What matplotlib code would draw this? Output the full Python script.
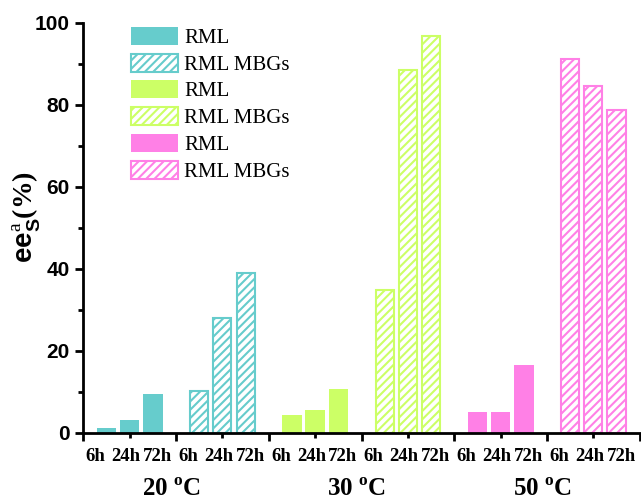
import matplotlib
matplotlib.use("Agg")
import matplotlib.pyplot as plt
import matplotlib.transforms as mtransforms

plt.rcParams['mathtext.fontset'] = 'custom'
plt.rcParams['mathtext.rm'] = 'Liberation Serif'
plt.rcParams['mathtext.bf'] = 'Liberation Serif:bold'
plt.rcParams['mathtext.sf'] = 'Liberation Sans:bold'
plt.rcParams['hatch.linewidth'] = 1.5

# ---- data ----
times = ["6h", "24h", "72h"]
temps = ["20", "30", "50"]
series_labels = ["RML", "RML MBGs"]
rml_20 = [1.1, 3.2, 9.4]
mbg_20 = [10.2, 28.0, 38.9]
rml_30 = [4.2, 5.6, 10.7]
mbg_30 = [34.8, 88.4, 96.8]
rml_50 = [5.0, 5.0, 16.5]
mbg_50 = [91.1, 84.6, 78.7]
colors = ["#66CCCC", "#CCFF66", "#FF80E6"]

groups = [rml_20, mbg_20, rml_30, mbg_30, rml_50, mbg_50]

fig = plt.figure(figsize=(6.41, 5.04), dpi=100)
ax = fig.add_axes([0.130, 0.1415, 0.868, 0.8135])

offsets = [0.25, 0.5, 0.75]
handles = []
for gi, vals in enumerate(groups):
    c = colors[gi // 2]
    hatched = gi % 2 == 1
    xs = [gi + o for o in offsets]
    if hatched:
        b = ax.bar(xs, vals, width=0.195, facecolor="white", edgecolor=c,
                   hatch="////", linewidth=1.5, label=series_labels[1])
    else:
        b = ax.bar(xs, vals, width=0.21, color=c, linewidth=0,
                   label=series_labels[0])
    handles.append(b)

ax.set_xlim(0, 6)
ax.set_ylim(0, 100)

for s in ["top", "right"]:
    ax.spines[s].set_visible(False)
for s in ["left", "bottom"]:
    ax.spines[s].set_linewidth(2.0)

ax.set_xticks(range(0, 7))
ax.set_xticks([i + 0.5 for i in range(6)], minor=True)
ax.set_xticklabels([])
ax.tick_params(axis='x', which='major', direction='out', length=6, width=2)
ax.tick_params(axis='x', which='minor', direction='out', length=3.5, width=2)

ax.set_yticks(range(0, 101, 20))
ax.set_yticks(range(10, 100, 20), minor=True)
ax.tick_params(axis='y', which='major', direction='out', length=6, width=2, pad=4)
ax.tick_params(axis='y', which='minor', direction='out', length=3.5, width=2)
for lab in ax.get_yticklabels():
    lab.set_fontfamily('Liberation Sans')
    lab.set_fontweight('bold')
    lab.set_fontsize(15)

trans = mtransforms.blended_transform_factory(ax.transData, ax.transAxes)
lab_off = [0.13, 0.46, 0.80]
for gi in range(6):
    for ti, t in enumerate(times):
        ax.text(gi + lab_off[ti], -0.057, t, transform=trans, ha='center',
                va='center', fontfamily='Liberation Serif', fontweight='bold',
                fontsize=13.5)

for k, t in enumerate(temps):
    ax.text(2 * k + 0.95, -0.155, t + r' $^{\mathbf{o}}$C', transform=trans,
            ha='center', va='baseline', fontfamily='Liberation Serif',
            fontweight='bold', fontsize=18)

fig.text(27 / 641, 1 - 217 / 504,
         r'$\mathsf{ee}_{\mathsf{S}}^{\mathrm{a}}\mathbf{(\%)}$',
         rotation=90, ha='center', va='center', fontfamily='Liberation Serif',
         fontweight='bold', fontsize=20)

leg = ax.legend(handles=handles, labels=[series_labels[i % 2] for i in range(6)],
                loc='upper left', bbox_to_anchor=(0.0857, 0.99), frameon=False,
                borderpad=0, borderaxespad=0, handlelength=2.26, handleheight=0.95,
                handletextpad=0.3, labelspacing=0.27,
                prop={'family': 'Liberation Serif', 'size': 15})

fig.savefig("out.png", dpi=100)
